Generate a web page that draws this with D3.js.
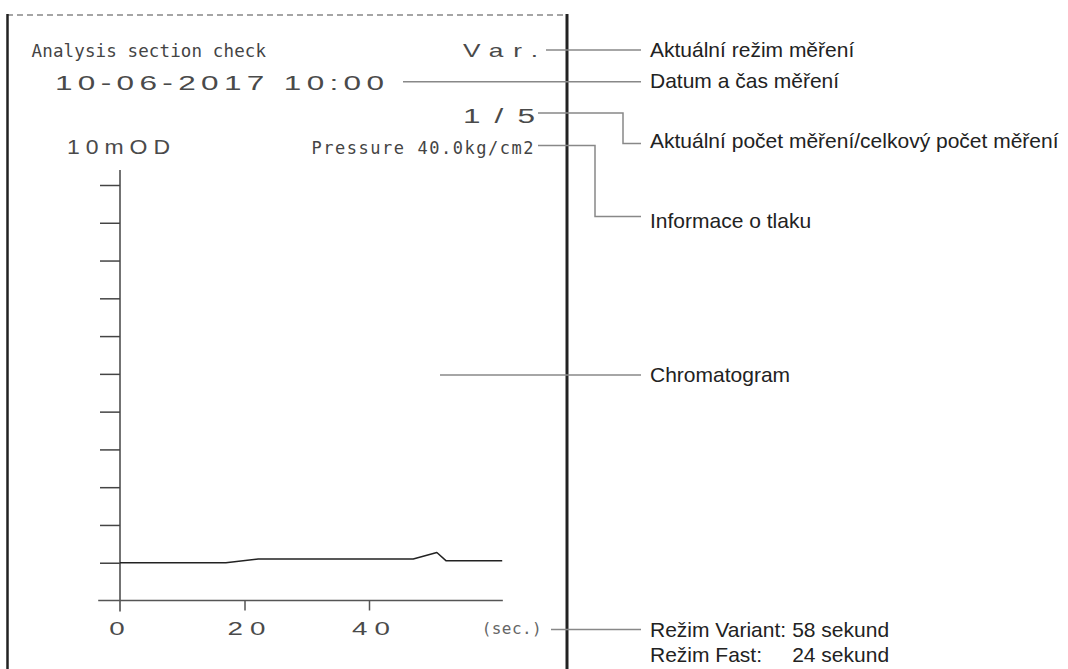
<!DOCTYPE html>
<html>
<head>
<meta charset="utf-8">
<script src="https://cdn.jsdelivr.net/npm/d3@7"></script>
<style>
  html, body { margin: 0; padding: 0; background: #fff; }
  svg { display: block; }
</style>
</head>
<body>
<svg id="chart" width="1068" height="669"></svg>
<script>
// ---- data ----
const times  = [0, 17.0, 22.2, 47.1, 50.9, 52.4, 61.4];       // sec
const signal = [1.0, 1.0, 1.1, 1.1, 1.27, 1.05, 1.05];        // x 10 mOD
const xTickValues = [0, 20, 40];
const xTickLabels = ["0", "20", "40"];
const yTickValues = [1, 2, 3, 4, 5, 6, 7, 8, 9, 10, 11];
const xExtent = [-3.5, 61.5];
const yExtent = [-0.3, 11.4];

const headerTitle = "Analysis section check";
const modeText = "Var.";
const dateText = "10-06-2017 10:00";
const countText = "1/5";
const unitText = "10mOD";
const pressureText = "Pressure  40.0kg/cm2";
const secText = "(sec.)";

const notes = [
  "Aktuální režim měření",
  "Datum a čas měření",
  "Aktuální počet měření/celkový počet měření",
  "Informace o tlaku",
  "Chromatogram"
];
const timeNoteA = ["Režim Variant:", "58 sekund"];
const timeNoteB = ["Režim Fast:", "24 sekund"];

// ---- drawing ----
const svg = d3.select("#chart");
const x = d3.scaleLinear().domain([0, 40]).range([120, 369]);
const y = d3.scaleLinear().domain([0, 11]).range([600.5, 185]);

const mono = "'DejaVu Sans Mono', monospace";
const wide = "'Liberation Sans', Arial, sans-serif";
const sans = "'Liberation Sans', Arial, Helvetica, sans-serif";
const SX = 1.5;

// frame
svg.append("line").attr("x1", 7).attr("x2", 567).attr("y1", 15).attr("y2", 15)
  .attr("stroke", "#888").attr("stroke-width", 1.5).attr("stroke-dasharray", "6,4");
svg.append("line").attr("x1", 7.5).attr("x2", 7.5).attr("y1", 14).attr("y2", 669)
  .attr("stroke", "#222").attr("stroke-width", 2.5);
svg.append("line").attr("x1", 567).attr("x2", 567).attr("y1", 14).attr("y2", 669)
  .attr("stroke", "#222").attr("stroke-width", 3);

// header texts
function wtext(str, x0, x1, base, size, font, fill) {
  return svg.append("text").attr("x", x0).attr("y", base)
    .attr("font-family", font).attr("font-size", size).attr("fill", fill)
    .attr("textLength", x1 - x0).attr("lengthAdjust", "spacing")
    .text(str);
}
function etext(str, x0, x1, base, size, sx) {
  const s = sx || SX;
  const t = svg.append("text")
    .attr("transform", `translate(${x0},${base}) scale(${s},1)`)
    .attr("font-family", wide).attr("font-size", size).attr("fill", "#4a4a4a")
    .text(str);
  if (x1 != null) t.attr("textLength", (x1 - x0) / s).attr("lengthAdjust", "spacing");
  return t;
}
wtext(headerTitle, 31.6, 266, 57, 17.5, mono, "#444");
etext(modeText, 463, 538, 57, 17.5);
etext(dateText, 55, 384, 90, 21);
etext(countText, 463, 535, 122.5, 21);
etext(unitText, 67, 170, 154, 20, 1.15);
wtext(pressureText, 311.5, 533.5, 154, 17, mono, "#444");
wtext(secText, 481.7, 541.7, 634, 16, mono, "#666");

// axes
const g = svg.append("g");
g.append("line").attr("x1", x(0)).attr("x2", x(0))
  .attr("y1", y(yExtent[1])).attr("y2", 611.5)
  .attr("stroke", "#444").attr("stroke-width", 1.5);
g.append("line").attr("x1", x(xExtent[0])).attr("x2", x(xExtent[1]))
  .attr("y1", y(0)).attr("y2", y(0))
  .attr("stroke", "#555").attr("stroke-width", 1.5);

const yAxis = d3.axisLeft(y).tickValues(yTickValues).tickSize(20).tickFormat("");
const ya = g.append("g").attr("transform", `translate(${x(0)},0)`).call(yAxis);
ya.select(".domain").remove();
ya.selectAll(".tick line").attr("stroke", "#444").attr("stroke-width", 1.5);

const xAxis = d3.axisBottom(x).tickValues(xTickValues.slice(1)).tickSize(10).tickFormat("");
const xa = g.append("g").attr("transform", `translate(0,${y(0)})`).call(xAxis);
xa.select(".domain").remove();
xa.selectAll(".tick line").attr("stroke", "#555").attr("stroke-width", 1.5);

xTickValues.forEach((v, i) => {
  const lbl = xTickLabels[i];
  const cx = x(v) + (i === 0 ? -3 : 2);
  if (lbl.length > 1) {
    etext(lbl, cx - 19, cx + 19, 635, 18.5);
  } else {
    svg.append("text")
      .attr("transform", `translate(${cx},635) scale(${SX},1)`)
      .attr("text-anchor", "middle").attr("font-family", wide)
      .attr("font-size", 18.5).attr("fill", "#4a4a4a").text(lbl);
  }
});

// chromatogram
const pts = times.map((t, i) => [t, signal[i]]);
svg.append("path").datum(pts)
  .attr("d", d3.line().x(d => x(d[0])).y(d => y(d[1])))
  .attr("fill", "none").attr("stroke", "#222").attr("stroke-width", 1.5)
  .attr("stroke-linejoin", "round");

// connectors
const conn = [
  "M546,50H641",
  "M403,81.7H641",
  "M538,113H623V143.5H641",
  "M538,145.5H595V216.5H641",
  "M440,375H641",
  "M551,629.5H641"
];
svg.append("g").selectAll("path").data(conn).join("path")
  .attr("d", d => d).attr("fill", "none").attr("stroke", "#888").attr("stroke-width", 1.5);

// notes
const noteBase = [57, 88, 148, 228, 382];
notes.forEach((n, i) => {
  svg.append("text").attr("x", 650).attr("y", noteBase[i])
    .attr("font-family", sans).attr("font-size", 21).attr("fill", "#222").text(n);
});
const tA = svg.append("text").attr("x", 650).attr("y", 637)
  .attr("font-family", sans).attr("font-size", 21).attr("fill", "#222").text(timeNoteA[0]);
const secX = 650 + tA.node().getComputedTextLength() + 6;
svg.append("text").attr("x", secX).attr("y", 637)
  .attr("font-family", sans).attr("font-size", 21).attr("fill", "#222").text(timeNoteA[1]);
svg.append("text").attr("x", 650).attr("y", 662)
  .attr("font-family", sans).attr("font-size", 21).attr("fill", "#222").text(timeNoteB[0]);
svg.append("text").attr("x", secX).attr("y", 662)
  .attr("font-family", sans).attr("font-size", 21).attr("fill", "#222").text(timeNoteB[1]);
</script>
</body>
</html>
